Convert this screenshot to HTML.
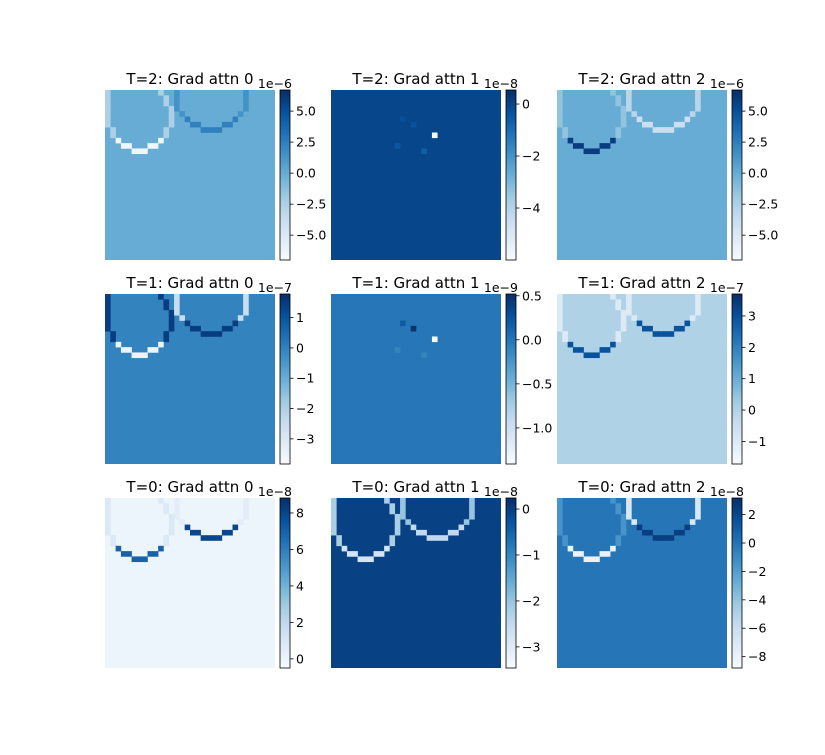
<!DOCTYPE html>
<html><head><meta charset="utf-8"><style>
body{margin:0;background:#fff;font-family:"Liberation Sans","DejaVu Sans",sans-serif}
svg text{font-family:"DejaVu Sans","Liberation Sans",sans-serif}
</style></head><body>
<svg id="fig" width="825" height="750"></svg>
<script>
// ---- data ----
const titles=["T=2: Grad attn 0","T=2: Grad attn 1","T=2: Grad attn 2","T=1: Grad attn 0","T=1: Grad attn 1","T=1: Grad attn 2","T=0: Grad attn 0","T=0: Grad attn 1","T=0: Grad attn 2"];
const exps=["1e−6","1e−8","1e−6","1e−7","1e−9","1e−7","1e−8","1e−8","1e−8"];
const vmins=[-7.0,-6.0,-7.0,-3.83,-1.41,-1.72,-0.5,-3.46,-8.8];
const vmaxs=[6.7,0.54,6.7,1.78,0.52,3.7,8.82,0.24,3.17];
const tickVals=[[5,2.5,0,-2.5,-5],[0,-2,-4],[5,2.5,0,-2.5,-5],[1,0,-1,-2,-3],[0.5,0,-0.5,-1],[3,2,1,0,-1],[8,6,4,2,0],[0,-1,-2,-3],[2,0,-2,-4,-6,-8]];
const tickLabels=[["5.0","2.5","0.0","−2.5","−5.0"],["0","−2","−4"],["5.0","2.5","0.0","−2.5","−5.0"],["1","0","−1","−2","−3"],["0.5","0.0","−0.5","−1.0"],["3","2","1","0","−1"],["8","6","4","2","0"],["0","−1","−2","−3"],["2","0","−2","−4","−6","−8"]];
const bgVals=[0,0,0,0,0,0,0,0,0];
const ring1Top=[-2.5,0,-1.5,1.5,0.1,-1,0.8,-2.2,-1.5];
const ring1Bot=[-6.5,0,6,-3.5,0,3,7,-2.8,-8];
const ring2Top=[1.5,0,-3,-2.5,0.1,-1,0.5,-2,-7];
const ring2Bot=[2.5,0,-4,1.5,0,3,8,-2.5,2.5];
// ring cells [col,row]
const ring1Cells=[[0,0],[10,0],[0,1],[11,1],[0,2],[11,2],[0,3],[12,3],[0,4],[12,4],[0,5],[12,5],[0,6],[12,6],[1,7],[11,7],[1,8],[11,8],[2,9],[10,9],[3,10],[4,10],[8,10],[9,10],[5,11],[6,11],[7,11]];
const ring2Cells=[[13,0],[26,0],[13,1],[26,1],[13,2],[26,2],[13,3],[26,3],[14,4],[25,4],[15,5],[24,5],[16,6],[17,6],[22,6],[23,6],[18,7],[19,7],[20,7],[21,7]];
// sparse spots for attn-1 panels at T=2 and T=1: [col,row]
const spotCells=[[19,8],[15,6],[17,11],[12,10],[13,5]];
const spotValsT2=[-6.0,-0.3,-0.6,-0.4,-0.2];
const spotValsT1=[-1.41,0.5,-0.1,-0.1,0.2];
// ---- render ----
const N=32, W=170;
const lefts=[105,331,557], tops=[90,294,498];
const stops=["#f7fbff","#deebf7","#c6dbef","#9ecae1","#6baed6","#4292c6","#2171b5","#08519c","#08306b"];
function hex(h){return [1,3,5].map(i=>parseInt(h.substr(i,2),16));}
function cmap(t){t=Math.max(0,Math.min(1,t));const s=t*8,i=Math.min(7,Math.floor(s)),f=s-i;const a=hex(stops[i]),b=hex(stops[i+1]);return `rgb(${a.map((v,k)=>Math.round(v+(b[k]-v)*f)).join(",")})`;}
const svg=document.getElementById('fig');const NS="http://www.w3.org/2000/svg";
function mk(tag,at,parent){const e=document.createElementNS(NS,tag);for(const k in at)e.setAttribute(k,at[k]);(parent||svg).appendChild(e);return e;}
for(let p=0;p<9;p++){
  const x0=lefts[p%3],y0=tops[Math.floor(p/3)],c=W/N;
  const norm=v=>(v-vmins[p])/(vmaxs[p]-vmins[p]);
  const g=mk('g',{});
  
  
  const bg=mk('rect',{x:x0,y:y0,width:W,height:W,fill:cmap(norm(bgVals[p]))},g);
  
  
  const cell=(cx,cy,v)=>{const r=mk('rect',{x:x0+cx*c,y:y0+cy*c,width:c+0.3,height:c+0.3,fill:cmap(norm(v))},g);
    
    };
  if(p===1||p===4){
    const sv=p===1?spotValsT2:spotValsT1;
    spotCells.forEach(([cx,cy],i)=>cell(cx,cy,sv[i]));
  } else {
    ring1Cells.forEach(([cx,cy])=>cell(cx,cy,cy>=9?ring1Bot[p]:ring1Top[p]));
    ring2Cells.forEach(([cx,cy])=>cell(cx,cy,cy>=5?ring2Bot[p]:ring2Top[p]));
  }
  const t=mk('text',{x:x0+W/2,y:y0-6,'text-anchor':'middle','font-size':15,fill:'#000'});t.textContent=titles[p];
  
  
  // colorbar
  const bx=x0+175,bw=10;
  const cb=mk('g',{});
  
  
  for(let i=0;i<85;i++){mk('rect',{x:bx,y:y0+W-(i+1)*2,width:bw,height:2.3,fill:cmap(i/84)},cb);}
  mk('rect',{x:bx,y:y0,width:bw,height:W,fill:'none',stroke:'#000','stroke-width':0.8},cb);
  tickVals[p].forEach((v,i)=>{const yy=y0+W-norm(v)*W;
    mk('line',{x1:bx+bw,x2:bx+bw+3.5,y1:yy,y2:yy,stroke:'#000','stroke-width':0.8},cb);
    const l=mk('text',{x:bx+bw+6,y:yy+4.5,'font-size':12.5,fill:'#000'},cb);l.textContent=tickLabels[p][i];
    
    });
  const ex=mk('text',{x:bx+bw+2,y:y0-2,'text-anchor':'end','font-size':12.5,fill:'#000'},cb);ex.textContent=exps[p];
  
  
}
</script>
</body></html>
